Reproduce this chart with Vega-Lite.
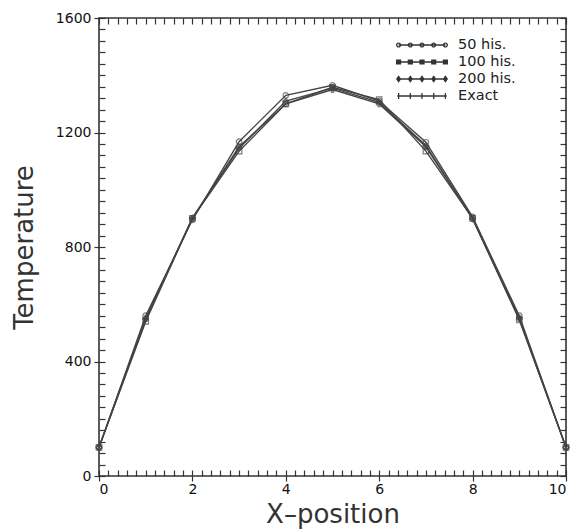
{
  "$schema": "https://vega.github.io/schema/vega-lite/v6.json",
  "autosize": {"type": "none"},
  "padding": {"left": 99, "top": 18, "right": 10, "bottom": 54},
  "width": 467,
  "height": 458,
  "background": "white",
  "config": {
    "view": {"stroke": "#333", "strokeWidth": 1.6},
    "axis": {
      "domain": false,
      "grid": false,
      "tickColor": "#333",
      "tickWidth": 1.2,
      "labelFont": "DejaVu Sans",
      "labelFontSize": 14,
      "labelColor": "#111",
      "titleFont": "DejaVu Sans",
      "titleFontWeight": "normal",
      "titleFontSize": 26,
      "titleColor": "#333"
    }
  },
  "data": {
    "values": [
      {"x": 0, "T": 100, "series": "50 his."},
      {"x": 1, "T": 560, "series": "50 his."},
      {"x": 2, "T": 895, "series": "50 his."},
      {"x": 3, "T": 1168, "series": "50 his."},
      {"x": 4, "T": 1330, "series": "50 his."},
      {"x": 5, "T": 1365, "series": "50 his."},
      {"x": 6, "T": 1310, "series": "50 his."},
      {"x": 7, "T": 1166, "series": "50 his."},
      {"x": 8, "T": 905, "series": "50 his."},
      {"x": 9, "T": 560, "series": "50 his."},
      {"x": 10, "T": 100, "series": "50 his."},
      {"x": 0, "T": 100, "series": "100 his."},
      {"x": 1, "T": 540, "series": "100 his."},
      {"x": 2, "T": 900, "series": "100 his."},
      {"x": 3, "T": 1135, "series": "100 his."},
      {"x": 4, "T": 1300, "series": "100 his."},
      {"x": 5, "T": 1358, "series": "100 his."},
      {"x": 6, "T": 1315, "series": "100 his."},
      {"x": 7, "T": 1135, "series": "100 his."},
      {"x": 8, "T": 900, "series": "100 his."},
      {"x": 9, "T": 545, "series": "100 his."},
      {"x": 10, "T": 100, "series": "100 his."},
      {"x": 0, "T": 100, "series": "200 his."},
      {"x": 1, "T": 548, "series": "200 his."},
      {"x": 2, "T": 902, "series": "200 his."},
      {"x": 3, "T": 1145, "series": "200 his."},
      {"x": 4, "T": 1310, "series": "200 his."},
      {"x": 5, "T": 1355, "series": "200 his."},
      {"x": 6, "T": 1305, "series": "200 his."},
      {"x": 7, "T": 1155, "series": "200 his."},
      {"x": 8, "T": 898, "series": "200 his."},
      {"x": 9, "T": 552, "series": "200 his."},
      {"x": 10, "T": 100, "series": "200 his."},
      {"x": 0, "T": 100, "series": "Exact"},
      {"x": 1, "T": 550, "series": "Exact"},
      {"x": 2, "T": 900, "series": "Exact"},
      {"x": 3, "T": 1150, "series": "Exact"},
      {"x": 4, "T": 1300, "series": "Exact"},
      {"x": 5, "T": 1350, "series": "Exact"},
      {"x": 6, "T": 1300, "series": "Exact"},
      {"x": 7, "T": 1150, "series": "Exact"},
      {"x": 8, "T": 900, "series": "Exact"},
      {"x": 9, "T": 550, "series": "Exact"},
      {"x": 10, "T": 100, "series": "Exact"}
    ]
  },
  "resolve": {
    "axis": {"x": "independent", "y": "independent"},
    "scale": {"shape": "independent"}
  },
  "layer": [
    {
      "mark": {"type": "line", "color": "#444", "strokeWidth": 1.4},
      "encoding": {
        "x": {
          "field": "x", "type": "quantitative",
          "scale": {"domain": [0, 10], "nice": false},
          "axis": {"orient": "bottom", "values": [0, 2, 4, 6, 8, 10], "tickSize": 5, "labelPadding": 1, "title": "X–position", "titlePadding": 5}
        },
        "y": {
          "field": "T", "type": "quantitative",
          "scale": {"domain": [0, 1600], "nice": false},
          "axis": {"orient": "left", "values": [0, 400, 800, 1200, 1600], "format": "d", "tickSize": 5, "labelPadding": 3, "title": "Temperature", "titlePadding": 18}
        },
        "detail": {"field": "series"}
      }
    },
    {
      "mark": {"type": "point", "filled": false, "color": "#444", "size": 30, "strokeWidth": 1.2},
      "encoding": {
        "x": {
          "field": "x", "type": "quantitative",
          "axis": {"orient": "bottom", "values": [0,0.2,0.4,0.6,0.8,1,1.2,1.4,1.6,1.8,2,2.2,2.4,2.6,2.8,3,3.2,3.4,3.6,3.8,4,4.2,4.4,4.6,4.8,5,5.2,5.4,5.6,5.8,6,6.2,6.4,6.6,6.8,7,7.2,7.4,7.6,7.8,8,8.2,8.4,8.6,8.8,9,9.2,9.4,9.6,9.8,10], "tickSize": -6, "labels": false, "title": null}
        },
        "y": {
          "field": "T", "type": "quantitative",
          "axis": {"orient": "left", "values": [0,40,80,120,160,200,240,280,320,360,400,440,480,520,560,600,640,680,720,760,800,840,880,920,960,1000,1040,1080,1120,1160,1200,1240,1280,1320,1360,1400,1440,1480,1520,1560,1600], "tickSize": -6, "labels": false, "title": null}
        },
        "shape": {
          "field": "series", "type": "nominal",
          "scale": {"domain": ["50 his.", "100 his.", "200 his.", "Exact"], "range": ["circle", "square", "diamond", "cross"]},
          "legend": null
        }
      }
    },
    {
      "mark": {"type": "point", "filled": true, "opacity": 0, "color": "#333"},
      "encoding": {
        "x": {
          "field": "x", "type": "quantitative",
          "axis": {"orient": "top", "values": [0,0.2,0.4,0.6,0.8,1,1.2,1.4,1.6,1.8,2,2.2,2.4,2.6,2.8,3,3.2,3.4,3.6,3.8,4,4.2,4.4,4.6,4.8,5,5.2,5.4,5.6,5.8,6,6.2,6.4,6.6,6.8,7,7.2,7.4,7.6,7.8,8,8.2,8.4,8.6,8.8,9,9.2,9.4,9.6,9.8,10], "tickSize": -6, "labels": false, "title": null}
        },
        "y": {
          "field": "T", "type": "quantitative",
          "axis": {"orient": "right", "values": [0,40,80,120,160,200,240,280,320,360,400,440,480,520,560,600,640,680,720,760,800,840,880,920,960,1000,1040,1080,1120,1160,1200,1240,1280,1320,1360,1400,1440,1480,1520,1560,1600], "tickSize": -6, "labels": false, "title": null}
        },
        "shape": {
          "field": "series", "type": "nominal",
          "scale": {
            "domain": ["50 his.", "100 his.", "200 his.", "Exact"],
            "range": [
              "M-0.9,-0.025H0.9V0.025H-0.9ZM-0.8,0A0.1,0.1 0 1,1 -1,0A0.1,0.1 0 1,1 -0.8,0ZM-0.85,0A0.05,0.05 0 1,0 -0.95,0A0.05,0.05 0 1,0 -0.85,0ZM-0.35,0A0.1,0.1 0 1,1 -0.55,0A0.1,0.1 0 1,1 -0.35,0ZM-0.4,0A0.05,0.05 0 1,0 -0.5,0A0.05,0.05 0 1,0 -0.4,0ZM0.1,0A0.1,0.1 0 1,1 -0.1,0A0.1,0.1 0 1,1 0.1,0ZM0.05,0A0.05,0.05 0 1,0 -0.05,0A0.05,0.05 0 1,0 0.05,0ZM0.55,0A0.1,0.1 0 1,1 0.35,0A0.1,0.1 0 1,1 0.55,0ZM0.5,0A0.05,0.05 0 1,0 0.4,0A0.05,0.05 0 1,0 0.5,0ZM1,0A0.1,0.1 0 1,1 0.8,0A0.1,0.1 0 1,1 1,0ZM0.95,0A0.05,0.05 0 1,0 0.85,0A0.05,0.05 0 1,0 0.95,0Z",
              "M-0.9,-0.025H0.9V0.025H-0.9ZM-1,-0.1h0.2v0.2h-0.2ZM-0.55,-0.1h0.2v0.2h-0.2ZM-0.1,-0.1h0.2v0.2h-0.2ZM0.35,-0.1h0.2v0.2h-0.2ZM0.8,-0.1h0.2v0.2h-0.2Z",
              "M-0.9,-0.025H0.9V0.025H-0.9ZM-0.9,-0.14l0.1,0.14l-0.1,0.14l-0.1,-0.14ZM-0.45,-0.14l0.1,0.14l-0.1,0.14l-0.1,-0.14ZM0,-0.14l0.1,0.14l-0.1,0.14l-0.1,-0.14ZM0.45,-0.14l0.1,0.14l-0.1,0.14l-0.1,-0.14ZM0.9,-0.14l0.1,0.14l-0.1,0.14l-0.1,-0.14Z",
              "M-0.95,-0.025H0.95V0.025H-0.95ZM-0.925,-0.12h0.05v0.24h-0.05ZM-0.475,-0.12h0.05v0.24h-0.05ZM-0.025,-0.12h0.05v0.24h-0.05ZM0.425,-0.12h0.05v0.24h-0.05ZM0.875,-0.12h0.05v0.24h-0.05Z"
            ]
          },
          "legend": {
            "orient": "none",
            "legendX": 297,
            "legendY": 19,
            "padding": 0,
            "title": null,
            "labelFont": "DejaVu Sans",
            "labelFontSize": 14.5,
            "labelColor": "#222",
            "labelOffset": 10,
            "symbolSize": 2704,
            "symbolOpacity": 1,
            "symbolStrokeWidth": 0,
            "symbolFillColor": "#333",
            "clipHeight": 16,
            "rowPadding": 1
          }
        }
      }
    }
  ]
}
